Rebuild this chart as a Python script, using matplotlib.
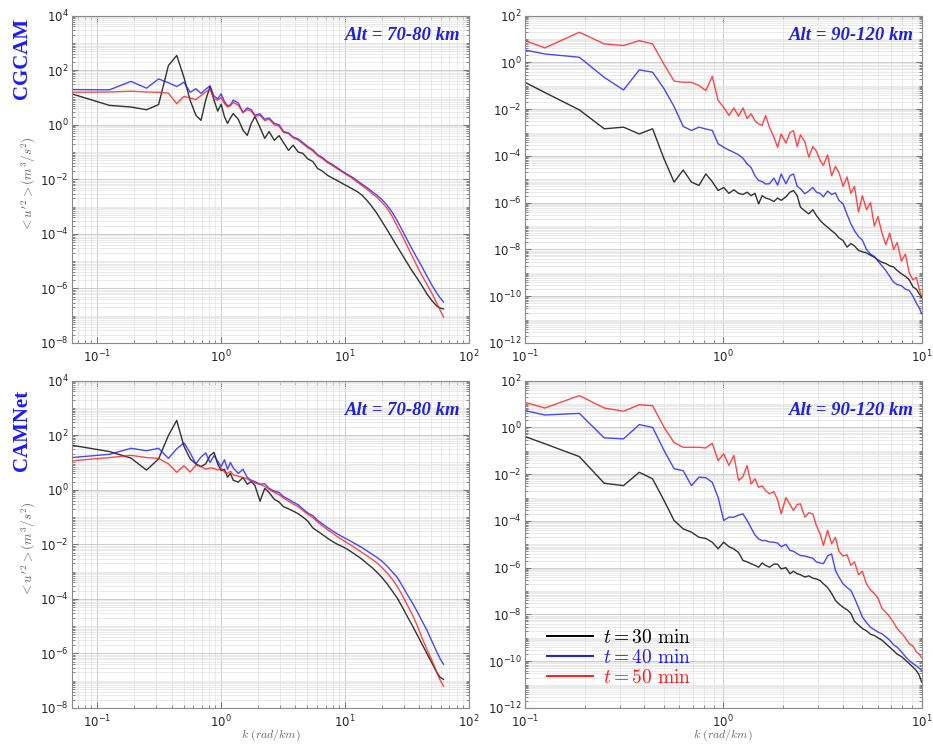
import numpy as np
import matplotlib.pyplot as plt
from matplotlib.ticker import FixedLocator, LogLocator, NullFormatter

# wavenumbers (rad/km) for the 70-80 km panels
k_left = [0.0628, 0.126, 0.188, 0.251, 0.314, 0.377, 0.440, 0.503, 0.565, 0.628,
          0.691, 0.754, 0.817, 0.880, 0.942, 1.005, 1.068, 1.131, 1.194, 1.257,
          1.382, 1.508, 1.634, 1.759, 1.885, 2.07, 2.26, 2.45, 2.70, 2.95,
          3.20, 3.52, 3.83, 4.21, 4.59, 5.03, 5.53, 6.03, 6.60, 7.23,
          7.92, 8.73, 9.55, 10.5, 11.5, 12.6, 13.8, 15.1, 16.6, 18.2,
          20.0, 22.0, 24.1, 26.4, 29.0, 31.8, 34.9, 38.3, 42.0, 46.1,
          50.6, 55.5, 59.0, 62.8]

# wavenumbers for the 90-120 km panels
k_right = [0.1, 0.126, 0.188, 0.251, 0.314, 0.377, 0.440, 0.503, 0.565, 0.628,
           0.691, 0.754, 0.817, 0.880, 0.942, 1.005, 1.068, 1.131, 1.194, 1.257,
           1.319, 1.382, 1.445, 1.508, 1.571, 1.634, 1.71, 1.80, 1.88, 1.96,
           2.07, 2.17, 2.26, 2.36, 2.45, 2.58, 2.70, 2.83, 2.95, 3.08,
           3.20, 3.36, 3.52, 3.68, 3.83, 4.02, 4.21, 4.40, 4.59, 4.81,
           5.03, 5.28, 5.53, 5.78, 6.03, 6.32, 6.60, 6.91, 7.23, 7.54,
           7.92, 8.29, 8.67, 9.05, 9.42, 9.74, 10.0]

# spectra, stored as log10(<u'^2>)
# CGCAM, 70-80 km
cg_low_30 = [1.13, 0.71, 0.65, 0.55, 0.74, 2.17, 2.54, 1.74, 0.89, 0.35,
             0.16, 0.90, 1.40, 0.90, 0.50, 0.75, 0.30, 0.05, 0.25, 0.41,
             0.20, -0.20, -0.39, 0.05, 0.30, -0.10, -0.50, -0.25, -0.57, -0.40,
             -0.65, -0.94, -0.75, -1.00, -1.05, -1.25, -1.35, -1.60, -1.70, -1.85,
             -1.95, -2.05, -2.15, -2.25, -2.35, -2.45, -2.58, -2.77, -3.00, -3.25,
             -3.55, -3.85, -4.15, -4.45, -4.75, -5.05, -5.35, -5.62, -5.90, -6.20,
             -6.45, -6.65, -6.72, -6.75]
cg_low_40 = [1.29, 1.28, 1.59, 1.34, 1.68, 1.54, 1.40, 1.56, 1.19, 1.32,
             1.15, 1.30, 1.43, 1.05, 0.95, 1.13, 0.85, 0.70, 0.72, 0.90,
             0.80, 0.45, 0.62, 0.55, 0.35, 0.40, 0.20, 0.25, 0.05, 0.00,
             -0.25, -0.30, -0.45, -0.52, -0.65, -0.80, -0.92, -1.10, -1.20, -1.35,
             -1.45, -1.58, -1.70, -1.82, -1.92, -2.05, -2.18, -2.30, -2.45, -2.58,
             -2.75, -2.95, -3.20, -3.50, -3.85, -4.20, -4.55, -4.88, -5.20, -5.55,
             -5.88, -6.18, -6.35, -6.50]
cg_low_50 = [1.19, 1.20, 1.23, 1.20, 1.19, 1.16, 0.77, 1.04, 0.98, 0.92,
             1.07, 1.20, 1.30, 0.95, 0.90, 1.00, 0.78, 0.65, 0.70, 0.82,
             0.72, 0.45, 0.55, 0.50, 0.30, 0.35, 0.15, 0.20, 0.00, -0.05,
             -0.28, -0.33, -0.48, -0.56, -0.70, -0.84, -0.96, -1.13, -1.24, -1.38,
             -1.49, -1.62, -1.73, -1.85, -1.96, -2.10, -2.23, -2.36, -2.52, -2.66,
             -2.85, -3.06, -3.35, -3.70, -4.05, -4.42, -4.80, -5.17, -5.52, -5.85,
             -6.18, -6.55, -6.80, -7.05]

# CGCAM, 90-120 km
cg_high_30 = [-0.85, -1.29, -2.03, -2.84, -2.77, -3.06, -2.84, -4.13, -5.12, -4.60,
              -5.12, -5.26, -4.77, -5.10, -5.48, -5.35, -5.60, -5.45, -5.60, -5.65,
              -5.55, -5.70, -5.60, -6.05, -5.70, -5.80, -5.85, -5.95, -5.80, -5.90,
              -5.75, -5.55, -5.48, -5.70, -6.19, -6.35, -6.48, -6.30, -6.55, -6.76,
              -6.90, -7.05, -7.20, -7.33, -7.50, -7.62, -7.90, -7.75, -7.85, -8.04,
              -8.10, -8.15, -8.25, -8.33, -8.45, -8.55, -8.60, -8.70, -8.75, -8.90,
              -9.04, -9.15, -9.30, -9.60, -9.70, -9.90, -10.04]
cg_high_40 = [0.53, 0.36, 0.22, -0.64, -1.18, -0.32, -0.42, -1.13, -1.89, -2.74,
              -2.91, -2.77, -2.85, -2.91, -3.48, -3.63, -3.75, -3.85, -3.95, -4.10,
              -4.34, -4.50, -4.85, -5.05, -5.10, -5.20, -5.19, -4.95, -5.25, -4.77,
              -5.19, -4.85, -4.77, -5.30, -5.40, -5.62, -5.50, -5.35, -5.55, -5.60,
              -5.75, -5.50, -5.65, -5.58, -5.90, -6.05, -6.50, -6.90, -7.20, -7.45,
              -7.60, -8.00, -8.20, -8.30, -8.50, -8.70, -8.90, -9.15, -9.40, -9.50,
              -9.55, -9.70, -9.75, -10.00, -10.30, -10.50, -10.75]
cg_high_50 = [0.93, 0.62, 1.29, 0.79, 0.72, 0.93, 0.79, -0.09, -0.80, -0.85,
              -0.85, -0.99, -1.20, -0.60, -1.63, -1.92, -2.27, -1.95, -2.30, -1.95,
              -2.40, -2.20, -2.50, -2.63, -2.70, -2.27, -2.77, -3.20, -3.63, -3.06,
              -3.45, -3.00, -2.92, -3.60, -3.10, -3.40, -4.05, -3.60, -3.80, -4.20,
              -4.40, -3.95, -4.85, -4.45, -4.70, -5.30, -4.90, -5.60, -5.30, -6.40,
              -5.70, -6.30, -6.00, -7.00, -6.60, -7.30, -7.80, -7.30, -8.00, -7.70,
              -8.50, -8.20, -9.00, -9.30, -9.20, -9.70, -10.00]

# CAMNet, 70-80 km
cn_low_30 = [1.63, 1.40, 1.16, 0.72, 1.13, 1.99, 2.54, 1.60, 1.13, 0.95,
             0.85, 0.95, 1.25, 1.37, 0.95, 0.70, 0.75, 0.46, 0.60, 0.35,
             0.28, 0.45, 0.20, 0.30, 0.15, -0.42, 0.05, -0.10, -0.35, -0.45,
             -0.62, -0.70, -0.78, -0.88, -1.00, -1.15, -1.40, -1.52, -1.64, -1.77,
             -1.89, -2.00, -2.08, -2.18, -2.30, -2.42, -2.55, -2.70, -2.85, -3.02,
             -3.22, -3.45, -3.70, -3.95, -4.28, -4.62, -4.95, -5.30, -5.65, -6.00,
             -6.35, -6.70, -6.88, -6.95]
cn_low_40 = [1.18, 1.30, 1.52, 1.43, 1.52, 1.15, 1.50, 1.72, 1.35, 0.95,
             1.20, 1.35, 1.00, 1.25, 1.05, 0.85, 1.10, 0.75, 1.00, 0.80,
             0.60, 0.75, 0.45, 0.35, 0.30, 0.20, 0.22, 0.05, -0.05, -0.10,
             -0.25, -0.35, -0.45, -0.55, -0.70, -0.85, -0.95, -1.12, -1.25, -1.38,
             -1.50, -1.62, -1.72, -1.82, -1.92, -2.02, -2.12, -2.24, -2.36, -2.48,
             -2.62, -2.80, -3.00, -3.20, -3.50, -3.82, -4.12, -4.45, -4.80, -5.15,
             -5.55, -5.95, -6.20, -6.40]
cn_low_50 = [1.06, 1.18, 1.26, 1.18, 1.15, 0.95, 0.64, 0.88, 0.65, 0.90,
             0.85, 0.75, 0.80, 0.78, 0.72, 0.80, 0.65, 0.60, 0.68, 0.55,
             0.50, 0.45, 0.40, 0.30, 0.25, 0.20, 0.12, 0.02, -0.10, -0.18,
             -0.30, -0.42, -0.52, -0.62, -0.76, -0.90, -1.02, -1.18, -1.32, -1.46,
             -1.58, -1.72, -1.83, -1.95, -2.06, -2.18, -2.30, -2.42, -2.55, -2.68,
             -2.85, -3.05, -3.27, -3.52, -3.85, -4.20, -4.55, -4.95, -5.42, -5.85,
             -6.25, -6.70, -6.98, -7.20]

# CAMNet, 90-120 km
cn_high_30 = [-0.39, -0.70, -1.25, -2.39, -2.49, -1.92, -2.20, -3.13, -3.98, -4.34,
              -4.48, -4.70, -4.75, -4.91, -5.19, -4.91, -5.10, -5.20, -5.35, -5.69,
              -5.75, -5.83, -5.90, -5.98, -5.80, -5.90, -5.98, -5.85, -5.85, -6.05,
              -6.00, -6.26, -6.15, -6.26, -6.30, -6.40, -6.35, -6.45, -6.48, -6.55,
              -6.69, -6.85, -7.10, -7.40, -7.55, -7.69, -7.80, -7.95, -8.30, -8.45,
              -8.60, -8.70, -8.85, -8.90, -9.00, -9.10, -9.25, -9.40, -9.55, -9.70,
              -9.80, -9.95, -10.10, -10.25, -10.40, -10.60, -10.89]
cn_high_40 = [0.72, 0.53, 0.60, -0.45, -0.49, 0.12, 0.00, -0.99, -1.77, -1.85,
              -2.49, -2.13, -2.15, -2.35, -2.99, -3.98, -3.84, -3.84, -3.75, -3.70,
              -3.98, -4.30, -4.60, -4.77, -4.84, -4.84, -4.90, -4.91, -4.95, -5.10,
              -5.00, -5.26, -5.30, -5.40, -5.48, -5.50, -5.55, -5.60, -5.75, -5.80,
              -5.83, -5.50, -5.41, -6.12, -6.40, -6.69, -6.85, -6.97, -7.30, -7.70,
              -8.11, -8.35, -8.55, -8.65, -8.75, -8.83, -8.95, -9.10, -9.30, -9.40,
              -9.60, -9.80, -9.97, -10.10, -10.20, -10.30, -10.39]
cn_high_50 = [1.07, 0.83, 1.36, 0.83, 0.69, 0.97, 0.93, 0.00, -0.65, -0.85,
              -0.85, -0.85, -0.88, -0.68, -1.42, -1.13, -1.63, -1.20, -2.27, -2.10,
              -1.63, -2.42, -2.20, -2.56, -2.50, -2.70, -2.84, -2.75, -3.10, -3.70,
              -3.00, -3.30, -3.55, -3.30, -3.27, -3.84, -3.65, -3.70, -4.20, -4.55,
              -5.05, -4.40, -4.98, -4.70, -5.30, -5.50, -5.45, -5.90, -5.75, -6.30,
              -6.15, -6.70, -6.95, -7.10, -7.30, -7.75, -7.90, -8.10, -8.35, -8.60,
              -8.80, -9.00, -9.25, -9.35, -9.60, -9.70, -9.85]

times = ["30", "40", "50"]
colors = ["#000000", "#1a1aff", "#ff1a1a"]
serif = "Liberation Serif"


def style_axis(ax, xlim, ylo, yhi):
    ax.set_xscale("log")
    ax.set_yscale("log")
    ax.set_xlim(xlim)
    ax.set_ylim(10.0 ** ylo, 10.0 ** yhi)
    ax.set_yticks([10.0 ** e for e in range(ylo, yhi + 1, 2)])
    minor = [s * 10.0 ** e for e in range(ylo, yhi) for s in range(1, 10)
             if not (s == 1 and (e - ylo) % 2 == 0)]
    ax.yaxis.set_minor_locator(FixedLocator(minor))
    ax.yaxis.set_minor_formatter(NullFormatter())
    ax.xaxis.set_major_locator(LogLocator(base=10))
    ax.xaxis.set_minor_locator(LogLocator(base=10, subs=np.arange(2, 10), numticks=50))
    ax.xaxis.set_minor_formatter(NullFormatter())
    ax.grid(True, which="major", color="#c4c4c4", lw=0.6)
    ax.grid(True, which="minor", color="#e2e2e2", lw=0.5)
    ax.set_axisbelow(True)
    ax.tick_params(which="both", direction="in", top=True, right=True,
                   colors="#777777", labelcolor="#262626", labelsize=8.5)
    ax.tick_params(axis="y", pad=2.5)
    ax.tick_params(axis="x", pad=4)
    ax.tick_params(which="major", length=4)
    ax.tick_params(which="minor", length=2)
    for sp in ax.spines.values():
        sp.set_color("#8a8a8a")
        sp.set_linewidth(0.8)


fig = plt.figure(figsize=(9.33, 7.44), dpi=100)
w, h = 0.425, 0.44
ax_tl = fig.add_axes([0.0772, 0.539, w, h])
ax_tr = fig.add_axes([0.5627, 0.539, w, h])
ax_bl = fig.add_axes([0.0772, 0.0484, w, h])
ax_br = fig.add_axes([0.5627, 0.0484, w, h])

panels = [
    (ax_tl, k_left, [cg_low_30, cg_low_40, cg_low_50], (0.0628, 100), -8, 4, "Alt = 70-80 km", 0.94),
    (ax_tr, k_right, [cg_high_30, cg_high_40, cg_high_50], (0.1, 10), -12, 2, "Alt = 90-120 km", 0.94),
    (ax_bl, k_left, [cn_low_30, cn_low_40, cn_low_50], (0.0628, 100), -8, 4, "Alt = 70-80 km", 0.91),
    (ax_br, k_right, [cn_high_30, cn_high_40, cn_high_50], (0.1, 10), -12, 2, "Alt = 90-120 km", 0.91),
]

for ax, k, series, xlim, ylo, yhi, alt, ty in panels:
    style_axis(ax, xlim, ylo, yhi)
    for logv, t, c in zip(series, times, colors):
        ax.plot(k, 10.0 ** np.array(logv), color=c, lw=1.0, alpha=0.8,
                label=r"$t = %s\ \mathrm{min}$" % t)
    ax.text(0.98, ty, alt, transform=ax.transAxes, ha="right", va="center",
            color="#2020e0", fontsize=13.5, fontweight="bold", fontstyle="italic",
            family=serif)

leg = ax_br.legend(loc="lower left", bbox_to_anchor=(0.03, 0.035), frameon=False,
                   borderpad=0, handlelength=2.4, handletextpad=0.5,
                   labelspacing=0.05, fontsize=14)
for line, txt, c in zip(leg.legend_handles, leg.get_texts(), colors):
    line.set_linewidth(1.4)
    line.set_alpha(1.0)
    txt.set_color(c)
    txt.set_math_fontfamily("cm")

# row titles and axis labels
fig.text(0.024, 0.922, "CGCAM", rotation=90, ha="center", va="center",
         color="#1a1aff", fontsize=15, fontweight="bold", family=serif)
fig.text(0.024, 0.422, "CAMNet", rotation=90, ha="center", va="center",
         color="#1a1aff", fontsize=15, fontweight="bold", family=serif)
for yc in (0.752, 0.262):
    fig.text(0.031, yc, r"$<u'^2>(m^3/s^2)$", rotation=90, ha="center", va="center",
             color="#666666", fontsize=9.5, math_fontfamily="cm")
for xc in (0.29, 0.775):
    fig.text(xc, 0.002, r"$k\ (rad/km)$", ha="center", va="bottom",
             color="#666666", fontsize=8.5, math_fontfamily="cm")

fig.savefig("out.png", dpi=100)
